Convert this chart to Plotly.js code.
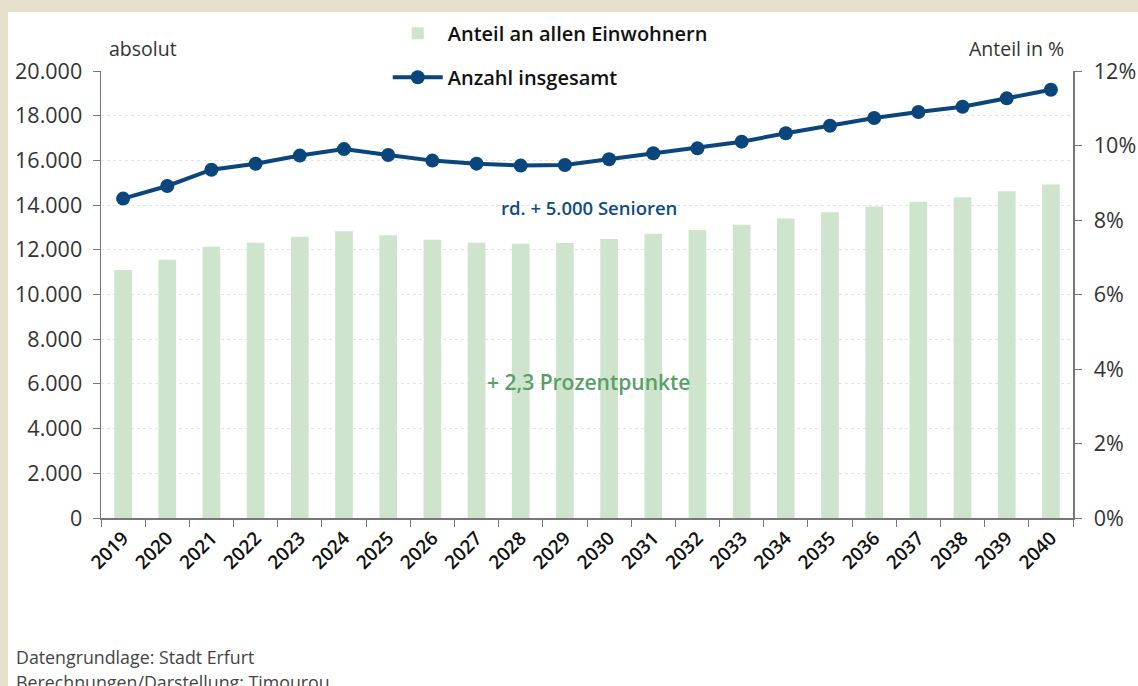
<!DOCTYPE html>
<html>
<head>
<meta charset="utf-8">
<script src="https://cdn.plot.ly/plotly-3.0.1.min.js"></script>
<style>
  html, body { margin: 0; padding: 0; background: #e6e0cd; width: 1138px; height: 686px; overflow: hidden; }
  #plot { position: absolute; left: 8px; top: 12px; width: 1130px; height: 674px; background: #fff; }
</style>
</head>
<body>
<div id="plot"></div>
<script>
// Werte
var jahre = ['2019','2020','2021','2022','2023','2024','2025','2026','2027','2028','2029',
             '2030','2031','2032','2033','2034','2035','2036','2037','2038','2039','2040'];
var anteil = [6.66, 6.93, 7.28, 7.39, 7.55, 7.70, 7.59, 7.47, 7.39, 7.36, 7.38,
              7.49, 7.63, 7.73, 7.87, 8.04, 8.21, 8.36, 8.49, 8.61, 8.77, 8.95];
var anzahl = [14290, 14855, 15585, 15850, 16215, 16505, 16242, 15990, 15855, 15768, 15794,
              16050, 16320, 16540, 16838, 17212, 17553, 17897, 18166, 18403, 18777, 19163];
var linksTicks = [0, 2000, 4000, 6000, 8000, 10000, 12000, 14000, 16000, 18000, 20000];
var rechtsTicks = [0, 2, 4, 6, 8, 10, 12];
var rechtsText = ['0%', '2%', '4%', '6%', '8%', '10%', '12%'];

var fontFam = '"Open Sans", "Liberation Sans", sans-serif';

var bars = {
  x: jahre,
  y: anteil,
  type: 'bar',
  name: 'Anteil an allen Einwohnern',
  yaxis: 'y2',
  legendgroup: 'a',
  marker: { color: '#cfe4cc' },
  hoverinfo: 'skip'
};

var line = {
  x: jahre,
  y: anzahl,
  type: 'scatter',
  mode: 'lines+markers',
  name: 'Anzahl insgesamt',
  legendgroup: 'b',
  line: { color: '#0a467c', width: 4 },
  marker: { color: '#0a467c', size: 14 },
  hoverinfo: 'skip'
};

var layout = {
  width: 1130,
  height: 674,
  margin: { l: 93, r: 65, t: 59, b: 168, autoexpand: false },
  paper_bgcolor: '#ffffff',
  plot_bgcolor: '#ffffff',
  separators: ',.',
  bargap: 0.6,
  font: { family: fontFam, color: '#333' },
  showlegend: true,
  legend: {
    x: 0.295, xanchor: 'left',
    y: 1.128, yanchor: 'top',
    bgcolor: 'rgba(0,0,0,0)',
    traceorder: 'grouped',
    tracegroupgap: 15,
    itemwidth: 50,
    font: { family: fontFam, size: 20, color: '#111', weight: 600 }
  },
  xaxis: {
    type: 'category',
    range: [-0.5, jahre.length - 0.5],
    tickangle: -45,
    tickson: 'boundaries',
    ticks: 'outside',
    ticklen: 7,
    tickcolor: '#777',
    showline: true,
    linecolor: '#777',
    linewidth: 1.5,
    showgrid: false,
    tickfont: { family: fontFam, size: 19, color: '#111', weight: 600 }
  },
  yaxis: {
    range: [0, 20000],
    tickmode: 'array',
    tickvals: linksTicks,
    tickformat: ',.0f',
    ticks: 'outside',
    ticklen: 7,
    tickcolor: '#777',
    ticklabelstandoff: 6,
    showline: true,
    linecolor: '#777',
    linewidth: 1.5,
    showgrid: true,
    gridcolor: '#e4e4e4',
    griddash: 'dot',
    zeroline: false,
    tickfont: { family: fontFam, size: 21.5, color: '#333' }
  },
  yaxis2: {
    overlaying: 'y',
    side: 'right',
    range: [0, 12],
    tickmode: 'array',
    tickvals: rechtsTicks,
    ticktext: rechtsText,
    ticks: 'outside',
    ticklen: 7,
    tickcolor: '#777',
    ticklabelstandoff: 8,
    showline: true,
    linecolor: '#777',
    linewidth: 1.5,
    showgrid: false,
    zeroline: false,
    tickfont: { family: fontFam, size: 21.5, color: '#333' }
  },
  annotations: [
    { xref: 'paper', yref: 'paper', x: 0.006, y: 1.015, xanchor: 'left', yanchor: 'bottom',
      text: 'absolut', showarrow: false, font: { family: fontFam, size: 19.5, color: '#333' } },
    { xref: 'paper', yref: 'paper', x: 0.993, y: 1.015, xanchor: 'right', yanchor: 'bottom',
      text: 'Anteil in %', showarrow: false, font: { family: fontFam, size: 19.5, color: '#333' } },
    { xref: 'paper', yref: 'paper', x: 0.502, y: 0.695, xanchor: 'center', yanchor: 'middle',
      text: 'rd. + 5.000 Senioren', showarrow: false,
      font: { family: fontFam, size: 18.5, color: '#0f4c81', weight: 600 } },
    { xref: 'paper', yref: 'paper', x: 0.502, y: 0.304, xanchor: 'center', yanchor: 'middle',
      text: '+ 2,3 Prozentpunkte', showarrow: false,
      font: { family: fontFam, size: 21, color: '#5a9e68', weight: 600 } },
    { xref: 'paper', yref: 'paper', x: -0.09, y: -0.312, xanchor: 'left', yanchor: 'middle',
      text: 'Datengrundlage: Stadt Erfurt', showarrow: false,
      font: { family: fontFam, size: 17.8, color: '#444' } },
    { xref: 'paper', yref: 'paper', x: -0.09, y: -0.366, xanchor: 'left', yanchor: 'middle',
      text: 'Berechnungen/Darstellung: Timourou', showarrow: false,
      font: { family: fontFam, size: 17.8, color: '#444' } }
  ]
};

Plotly.newPlot('plot', [bars, line], layout, { displayModeBar: false, staticPlot: true });
</script>
</body>
</html>
